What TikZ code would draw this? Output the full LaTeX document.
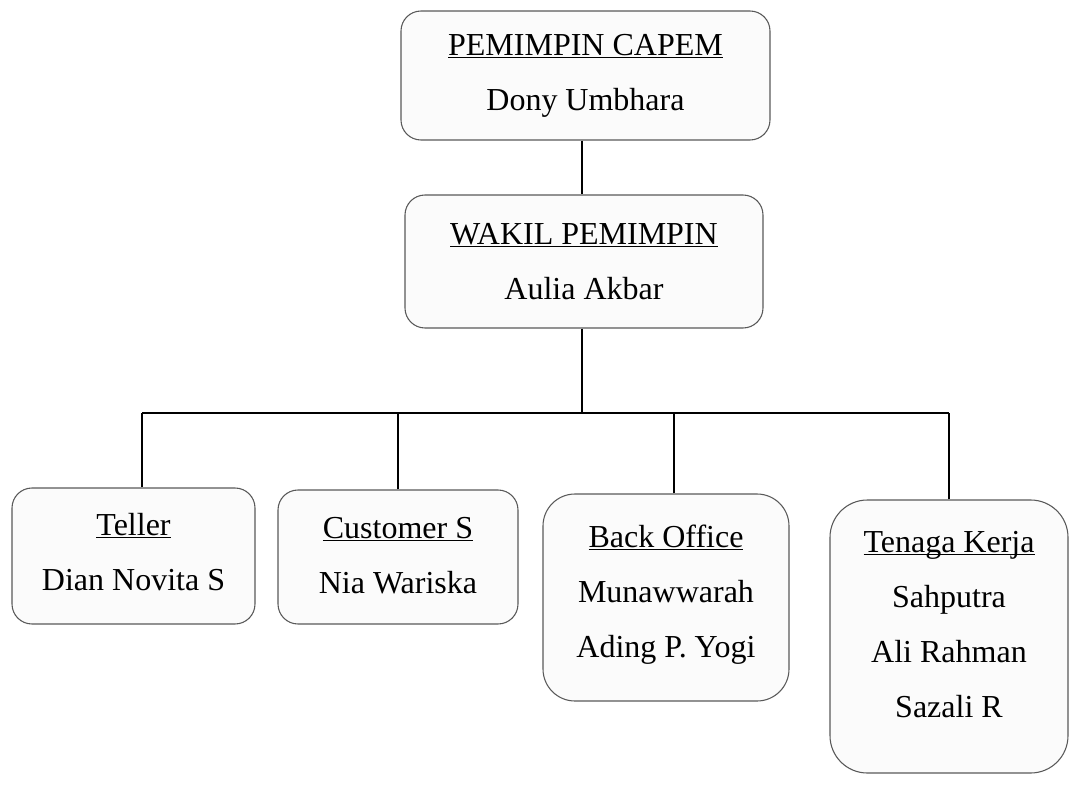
\documentclass[tikz,border=0pt]{standalone}
\usepackage{fontspec}
\setmainfont{Liberation Serif}
\newcommand{\jdl}[1]{\underline{\raisebox{0pt}[\height][0pt]{#1}}}
\newcommand{\turun}[1]{\rule[-#1]{0pt}{#1}}
\tikzset{
	jabatan/.style={draw=gray!70!black, fill=gray!3, line width=.8pt, rounded corners=15pt, align=center, font=\fontsize{24}{41.25}\selectfont},
	garis/.style={line width=1pt}
}
\begin{document}
\begin{tikzpicture}[x=.75pt,y=-.75pt]
	\useasboundingbox (0,0) rectangle (1070,788);
	\node [jabatan, minimum width=276.75pt, minimum height=96.75pt] (capem) at (585.5,75.5) {\jdl{PEMIMPIN CAPEM}\\ Dony Umbhara};
	\node [jabatan, minimum width=268.5pt, minimum height=99.75pt] (wakil) at (584,261.5) {\jdl{WAKIL PEMIMPIN}\\ Aulia Akbar};
	\node [jabatan, minimum width=182.25pt, minimum height=102pt] (teller) at (133.5,556) {\jdl{Teller}\\ Dian Novita S\turun{6pt}};
	\node [jabatan, minimum width=180pt, minimum height=100.5pt] (cs) at (398,557) {\jdl{Customer S}\\ Nia Wariska\turun{3pt}};
	\node [jabatan, minimum width=184.5pt, minimum height=155.25pt, rounded corners=24pt] (bo) at (666,597.5) {\jdl{Back Office}\\ Munawwarah\\ Ading P. Yogi\turun{9pt}};
	\node [jabatan, minimum width=178.5pt, minimum height=204.75pt, rounded corners=28pt] (tk) at (949,636.5) {\jdl{Tenaga Kerja}\\ Sahputra\\ Ali Rahman\\ Sazali R\turun{18pt}};
	\coordinate (bus) at (0,413);
	\draw [garis] ([xshift=-2.6pt]capem.south) -- ([xshift=-2.6pt]capem.south |- wakil.north);
	\draw [garis] ([xshift=-1.5pt]wakil.south) -- ([xshift=-1.5pt]wakil.south |- bus);
	\draw [garis] ([xshift=6.4pt]teller.north |- bus) -- (tk.north |- bus);
	\draw [garis] ([xshift=6.4pt]teller.north) -- ([xshift=6.4pt]teller.north |- bus);
	\draw [garis] ([xshift=6pt]bo.north) -- ([xshift=6pt]bo.north |- bus);
	\foreach \n in {cs, tk} {
		\draw [garis] (\n.north) -- (\n.north |- bus);
	}
\end{tikzpicture}
\end{document}
